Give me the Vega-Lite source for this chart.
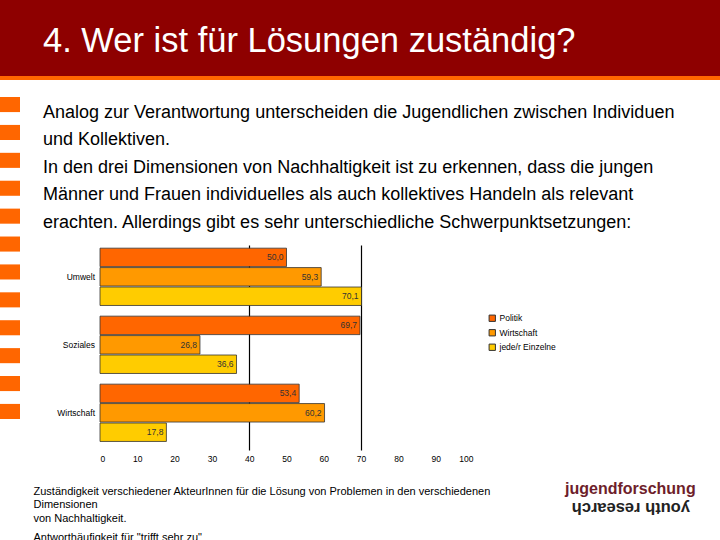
{
  "$schema": "https://vega.github.io/schema/vega-lite/v6.json",
  "padding": 0,
  "background": "white",
  "bounds": "flush",
  "spacing": 0,
  "datasets": {
    "antworten": [
      {"dimension": "Umwelt", "akteur": "Politik", "anteil": 50.0},
      {"dimension": "Umwelt", "akteur": "Wirtschaft", "anteil": 59.3},
      {"dimension": "Umwelt", "akteur": "jede/r Einzelne", "anteil": 70.1},
      {"dimension": "Soziales", "akteur": "Politik", "anteil": 69.7},
      {"dimension": "Soziales", "akteur": "Wirtschaft", "anteil": 26.8},
      {"dimension": "Soziales", "akteur": "jede/r Einzelne", "anteil": 36.6},
      {"dimension": "Wirtschaft", "akteur": "Politik", "anteil": 53.4},
      {"dimension": "Wirtschaft", "akteur": "Wirtschaft", "anteil": 60.2},
      {"dimension": "Wirtschaft", "akteur": "jede/r Einzelne", "anteil": 17.8}
    ],
    "text": [
      {"zeile": 1, "inhalt": "Analog zur Verantwortung unterscheiden die Jugendlichen zwischen Individuen"},
      {"zeile": 2, "inhalt": "und Kollektiven."},
      {"zeile": 3, "inhalt": "In den drei Dimensionen von Nachhaltigkeit ist zu erkennen, dass die jungen"},
      {"zeile": 4, "inhalt": "Männer und Frauen individuelles als auch kollektives Handeln als relevant"},
      {"zeile": 5, "inhalt": "erachten. Allerdings gibt es sehr unterschiedliche Schwerpunktsetzungen:"}
    ],
    "quadrate": [
      {"nr": 1}, {"nr": 2}, {"nr": 3}, {"nr": 4}, {"nr": 5}, {"nr": 6},
      {"nr": 7}, {"nr": 8}, {"nr": 9}, {"nr": 10}, {"nr": 11}, {"nr": 12}
    ]
  },
  "config": {
    "view": {"stroke": null},
    "font": "Liberation Sans",
    "locale": {"number": {"decimal": ",", "thousands": ".", "grouping": [3], "currency": ["", " €"]}},
    "title": {"font": "Liberation Sans", "fontWeight": "normal"}
  },
  "vconcat": [
    {
      "width": 720,
      "height": 76,
      "data": {"values": [{"bereich": "Kopfzeile"}]},
      "mark": {"type": "rect", "color": "#8e0000"},
      "encoding": {},
      "title": {
        "text": "4. Wer ist für Lösungen zuständig?",
        "orient": "top", "anchor": "start", "frame": "group",
        "dx": 43, "offset": -86, "baseline": "alphabetic",
        "color": "white", "fontSize": 34.5, "fontWeight": "normal"
      }
    },
    {
      "width": 720,
      "height": 4,
      "data": {"values": [{"bereich": "Linie"}]},
      "mark": {"type": "rect", "color": "#ff6600"},
      "encoding": {}
    },
    {
      "bounds": "flush",
      "spacing": 23,
      "hconcat": [
        {
          "width": 20,
          "height": 356,
          "data": {"name": "quadrate"},
          "mark": {"type": "rect", "color": "#ff6600"},
          "encoding": {
            "y": {"field": "nr", "type": "ordinal", "axis": null,
                  "scale": {"type": "band", "paddingInner": 0.46, "paddingOuter": 0.61}}
          }
        },
        {
          "bounds": "flush",
          "spacing": 0,
          "vconcat": [
            {
              "width": 654,
              "height": 165,
              "data": {"name": "text"},
              "mark": {"type": "text", "align": "left", "baseline": "alphabetic", "fontSize": 18, "color": "black"},
              "encoding": {
                "x": {"datum": 0, "type": "quantitative", "scale": {"domain": [0, 1]}, "axis": null},
                "y": {"field": "zeile", "type": "ordinal", "axis": null,
                      "scale": {"type": "point", "padding": 1, "align": 0.69}},
                "text": {"field": "inhalt"}
              },
              "title": {
                "text": "youth research",
                "orient": "bottom", "anchor": "start", "frame": "group",
                "angle": 180, "dx": -647, "offset": 258, "baseline": "alphabetic",
                "fontSize": 16.5, "fontWeight": "bold", "color": "#222222"
              }
            },
            {
              "bounds": "flush",
              "spacing": 0,
              "hconcat": [
                {
                  "width": 57,
                  "height": 205,
                  "data": {"name": "antworten"},
                  "transform": [{"aggregate": [{"op": "count", "as": "n"}], "groupby": ["dimension"]}],
                  "mark": {"type": "text", "align": "right", "baseline": "middle", "fontSize": 8.5, "dx": -5, "color": "black"},
                  "encoding": {
                    "x": {"datum": 1, "type": "quantitative", "scale": {"domain": [0, 1]}, "axis": null},
                    "y": {"field": "dimension", "type": "nominal", "sort": ["Umwelt", "Soziales", "Wirtschaft"], "axis": null,
                          "scale": {"type": "band", "paddingInner": 0.157, "paddingOuter": 0.086, "align": 0.27}},
                    "text": {"field": "dimension"}
                  },
                  "title": {
                    "text": "jugendforschung",
                    "orient": "bottom", "anchor": "start", "frame": "group",
                    "dx": 522, "offset": 44, "baseline": "alphabetic",
                    "fontSize": 16, "fontWeight": "bold", "color": "#6e1e2b"
                  }
                },
                {
                  "width": 373,
                  "height": 205,
                  "data": {"name": "antworten"},
                  "encoding": {
                    "y": {
                      "field": "dimension", "type": "nominal", "sort": ["Umwelt", "Soziales", "Wirtschaft"],
                      "scale": {"type": "band", "paddingInner": 0.157, "paddingOuter": 0.086, "align": 0.27},
                      "axis": {
                        "labels": false, "ticks": false, "domain": false, "grid": false,
                        "title": "Antworthäufigkeit für \"trifft sehr zu\"",
                        "titleAngle": 0, "titleX": -67, "titleY": 295.5, "titleAlign": "left",
                        "titleBaseline": "alphabetic", "titleFontSize": 11, "titleFontWeight": "normal",
                        "titleColor": "black", "titleLimit": 1000
                      }
                    },
                    "yOffset": {
                      "field": "akteur", "type": "nominal", "sort": ["Politik", "Wirtschaft", "jede/r Einzelne"],
                      "scale": {"type": "band", "paddingInner": 0.05}
                    },
                    "x": {
                      "field": "anteil", "type": "quantitative",
                      "scale": {"domain": [0, 100], "nice": false},
                      "axis": {
                        "values": [0, 10, 20, 30, 40, 50, 60, 70, 80, 90, 100],
                        "labelFontSize": 8.5, "labelColor": "black", "ticks": false, "domain": false, "labelPadding": 4,
                        "grid": true, "gridColor": "black", "gridWidth": 1.2,
                        "gridOpacity": {"condition": {"test": "datum.value === 40 || datum.value === 70", "value": 1}, "value": 0},
                        "title": [
                          "Zuständigkeit verschiedener AkteurInnen für die Lösung von Problemen in den verschiedenen",
                          "Dimensionen",
                          "von Nachhaltigkeit."
                        ],
                        "titleFontSize": 11, "titleFontWeight": "normal", "titleColor": "black",
                        "titleX": -67, "titleY": 44, "titleAlign": "left", "titleAnchor": "start",
                        "titleBaseline": "alphabetic", "titleLineHeight": 13.5, "titleLimit": 1000
                      }
                    }
                  },
                  "layer": [
                    {
                      "mark": {"type": "bar", "stroke": "#333333", "strokeWidth": 0.8},
                      "encoding": {
                        "color": {
                          "field": "akteur", "type": "nominal", "sort": ["Politik", "Wirtschaft", "jede/r Einzelne"],
                          "scale": {"range": ["#ff6600", "#ff9900", "#ffcc00"]},
                          "legend": {
                            "orient": "none", "legendX": 488, "legendY": 314, "title": null,
                            "symbolType": "square", "symbolSize": 40, "symbolStrokeColor": "#333333", "symbolStrokeWidth": 1,
                            "labelFontSize": 8.5, "labelColor": "black", "rowPadding": 3.5, "labelOffset": 3
                          }
                        }
                      }
                    },
                    {
                      "mark": {"type": "text", "align": "right", "baseline": "middle", "dx": -3, "fontSize": 8.5, "color": "#333333"},
                      "encoding": {
                        "text": {"field": "anteil", "type": "quantitative", "format": ".1f"}
                      }
                    }
                  ]
                }
              ]
            }
          ]
        }
      ]
    }
  ]
}
